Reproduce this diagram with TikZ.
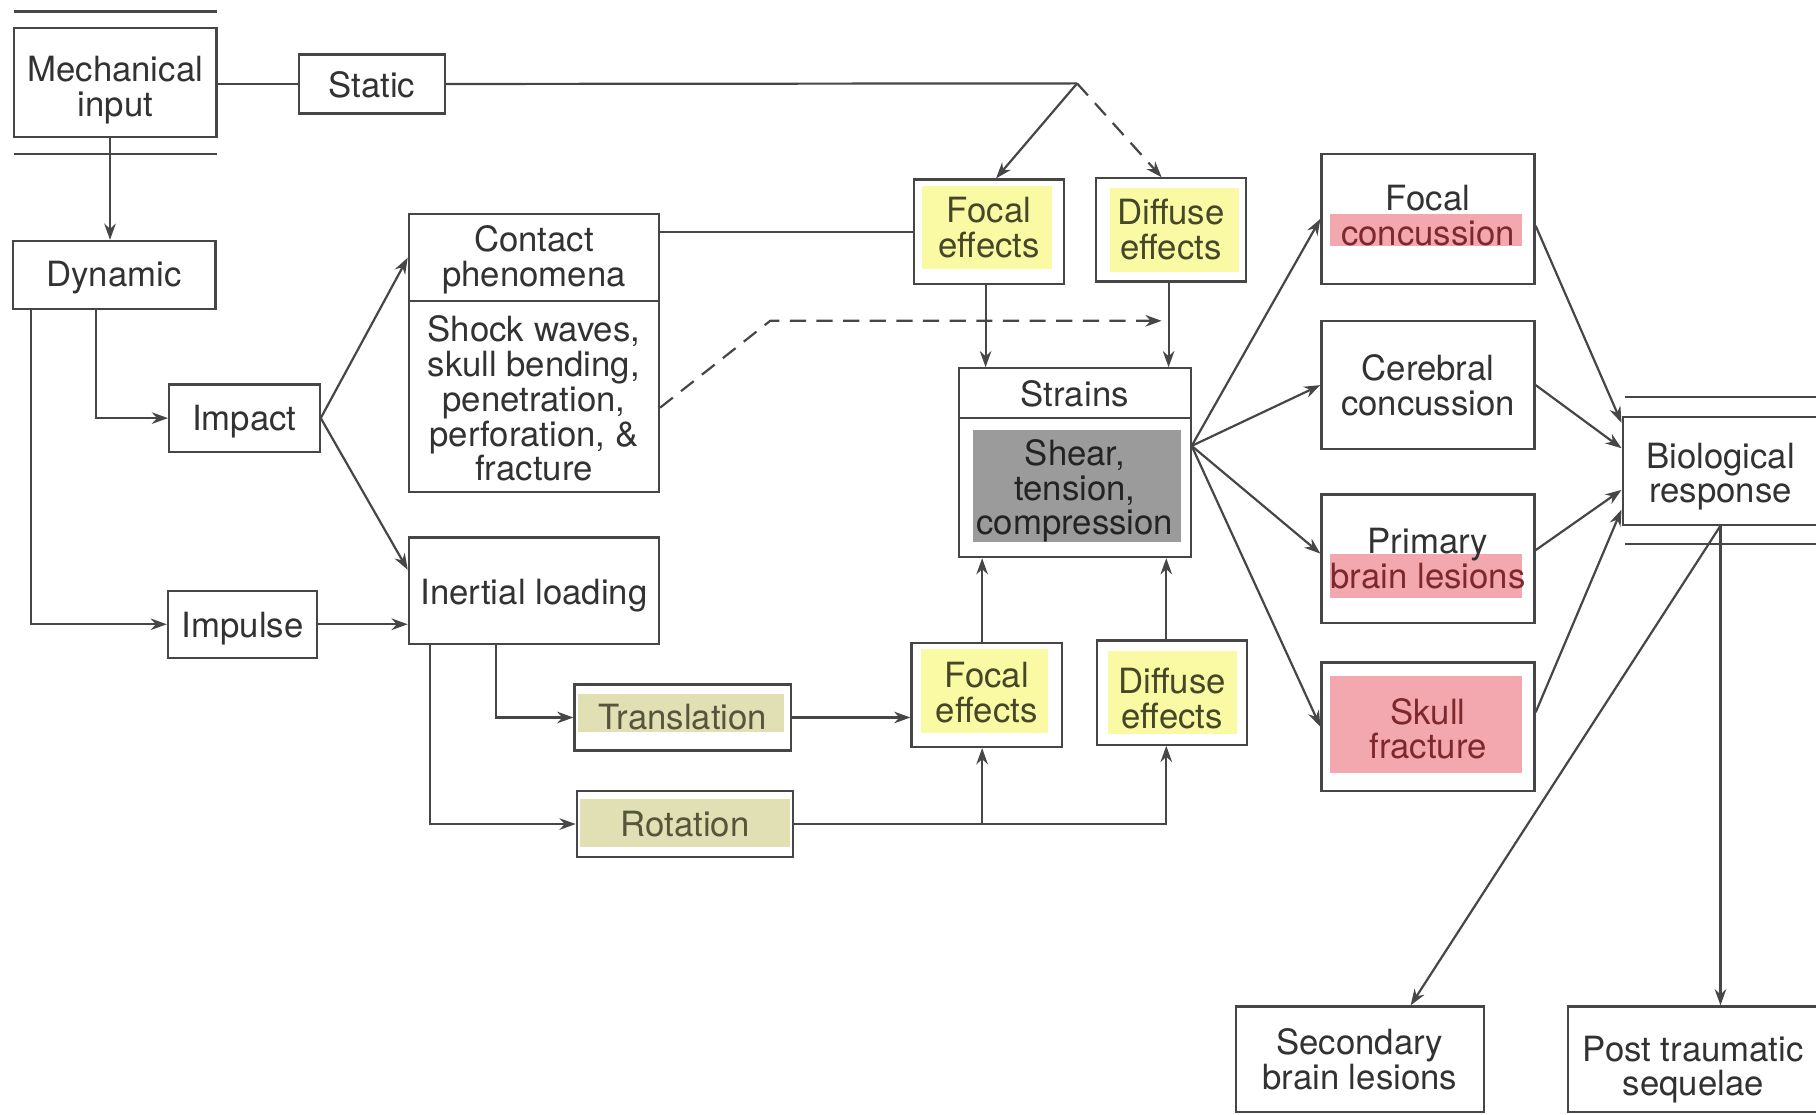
\documentclass[tikz,border=0pt]{standalone}
\usepackage{fontspec}
\setmainfont{TeX Gyre Heros}
\usetikzlibrary{arrows.meta,calc}
\definecolor{linec}{RGB}{70,70,70}
\definecolor{txt}{RGB}{50,50,50}
\definecolor{yel}{RGB}{250,250,165}
\definecolor{yeltxt}{RGB}{70,70,40}
\definecolor{olv}{RGB}{224,224,180}
\definecolor{olvtxt}{RGB}{85,85,60}
\definecolor{pnk}{RGB}{243,168,175}
\definecolor{pnktxt}{RGB}{125,40,45}
\definecolor{gry}{RGB}{155,155,155}
\definecolor{grytxt}{RGB}{35,35,35}
% push text down by #1 (first-line strut) / up by #1 (last-line depth)
\newcommand{\txtdn}[1]{\rule{0pt}{\dimexpr 22pt+#1pt+#1pt\relax}}
\newcommand{\txtup}[1]{\rule[-\dimexpr #1pt+#1pt\relax]{0pt}{0pt}}
\begin{document}
\begin{tikzpicture}[x=1pt,y=-1pt,
  bx/.style={draw=linec, line width=1.9pt, inner sep=0pt, align=center, text=txt,
    font=\fontsize{30}{30}\selectfont},
  conn/.style={draw=linec, line width=1.9pt},
  arr/.style={conn, -{Stealth[length=14pt,width=10pt]}},
  dsh/.style={arr, dash pattern=on 14pt off 9pt},
  rule/.style={draw=linec, line width=1.9pt}]
\useasboundingbox (0,0) rectangle (1568,962);

% fills
\fill[yel] (796,161) rectangle (908,232);
\fill[yel] (958,162) rectangle (1070,235);
\fill[yel] (795,560) rectangle (905,633);
\fill[yel] (957,562) rectangle (1068,634);
\fill[olv] (499,599) rectangle (677,632);
\fill[olv] (501,690) rectangle (682,731);
\fill[gry] (840,371) rectangle (1020,468);
\fill[pnk] (1148,185) rectangle (1314,212);
\fill[pnk] (1148,478) rectangle (1314,516);
\fill[pnk] (1148,584) rectangle (1314,667);

% rules
\draw[rule] (12,10) -- (187,10);
\draw[rule] (12,133) -- (187,133);
\draw[rule] (1403,343) -- (1570,343);
\draw[rule] (1403,470) -- (1570,470);

% nodes
\node[bx, minimum width=175pt, minimum height=94pt] (mech) at (99.5,71) {\txtdn{7}Mechanical\\input};
\node[bx, minimum width=126pt, minimum height=51pt] (static) at (321,72.5) {\txtdn{1}Static};
\node[bx, minimum width=175pt, minimum height=59pt] (dyn) at (98.5,237.5) {\txtdn{2}Dynamic};
\node[bx, minimum width=130pt, minimum height=58pt] (impact) at (211,361) {\txtdn{3}Impact};
\node[bx, minimum width=129pt, minimum height=58pt] (impulse) at (209.5,539) {\txtdn{4}Impulse};
\node[bx, minimum width=216pt, minimum height=75pt] (contact) at (461,222.5) {\txtdn{2}Contact\\phenomena};
\node[bx, minimum width=216pt, minimum height=165pt] (shock) at (461,342.5) {\txtdn{2}Shock waves,\\skull bending,\\penetration,\\perforation, \&\\fracture};
\node[bx, minimum width=216pt, minimum height=92pt] (inertial) at (461,510) {\txtdn{4}Inertial loading};
\node[bx, minimum width=187pt, minimum height=57pt, text=olvtxt] (trans) at (589.5,619.5) {Translation};
\node[bx, minimum width=187pt, minimum height=57pt, text=olvtxt] (rot) at (591.5,711.5) {Rotation};
\node[bx, minimum width=130pt, minimum height=90pt, text=yeltxt] (ftop) at (854,200) {Focal\\effects\txtup{4}};
\node[bx, minimum width=130pt, minimum height=89pt, text=yeltxt] (dtop) at (1011,198.5) {Diffuse\\effects};
\node[bx, minimum width=200pt, minimum height=43pt] (strains) at (928,339.5) {\txtdn{1}Strains};
\node[bx, minimum width=200pt, minimum height=120pt, text=grytxt] (shear) at (928,421) {\txtdn{3}Shear,\\tension,\\compression};
\node[bx, minimum width=130pt, minimum height=90pt, text=yeltxt] (fbot) at (852,600) {Focal\\effects\txtup{2}};
\node[bx, minimum width=130pt, minimum height=90pt, text=yeltxt] (dbot) at (1012,598) {\txtdn{5}Diffuse\\effects};
\node[bx, minimum width=184pt, minimum height=112pt] (fconc) at (1233,189) {Focal\\\textcolor{pnktxt}{concussion}\txtup{3}};
\node[bx, minimum width=184pt, minimum height=111pt] (cconc) at (1233,332.5) {Cerebral\\concussion};
\node[bx, minimum width=184pt, minimum height=111pt] (prim) at (1233,482.5) {Primary\\\textcolor{pnktxt}{brain lesions}};
\node[bx, minimum width=184pt, minimum height=111pt, text=pnktxt] (skull) at (1233,627.5) {\txtdn{2}Skull\\fracture};
\node[bx, minimum width=169pt, minimum height=93pt] (bio) at (1485.5,406.5) {\txtdn{5}Biological\\response};
\node[bx, minimum width=214pt, minimum height=91pt] (sec) at (1174,914.5) {Secondary\\brain lesions};
\node[bx, minimum width=216pt, minimum height=91pt] (post) at (1462,914.5) {\txtdn{9}Post traumatic\\sequelae};

% helper coordinates
\coordinate (sj) at (930,72);
\coordinate (dx) at (95,0);
\coordinate (dk) at (665,277);
\coordinate (fb) at ([xshift=-4pt]fbot.south);
\coordinate (fbn) at ([xshift=-4pt]fbot.north);
\coordinate (dbn) at ([xshift=-5pt]dbot.north);
\coordinate (ftn) at ([xshift=-3pt]ftop.south);
\coordinate (dts) at ([xshift=-2pt]dtop.south);
\coordinate (dde) at (1003,0);
\coordinate (so) at ([yshift=36pt]shear.east);

% connectors
\draw[conn] (mech.east |- static.west) -- (static.west);
\draw[conn] (static.east) -- (sj);
\draw[arr] (sj) -- ([xshift=6pt]ftop.north);
\draw[dsh] (sj) -- ([xshift=-8pt]dtop.north);
\draw[arr] (mech.south -| dx) -- (dyn.north -| dx);
\draw[arr] ([xshift=-15.5pt]dyn.south) |- (impact.west);
\draw[arr] ([xshift=-71.5pt]dyn.south) |- (impulse.west);
\draw[arr] (impact.east) -- (contact.west);
\draw[arr] (impact.east) -- ([yshift=18pt]inertial.west);
\draw[arr] (impulse.east) -- (impulse.east -| inertial.west);
\draw[arr] ([xshift=-33pt]inertial.south) |- (trans.west);
\draw[arr] ([xshift=-90pt]inertial.south) |- (rot.west);
\draw[arr] (trans.east) -- (trans.east -| fbot.west);
\draw[arr] (rot.east) -| ([xshift=-5pt]dbot.south);
\draw[arr] (fb |- rot.east) -- (fb);
\draw[arr] (fbn) -- (fbn |- shear.south);
\draw[arr] (dbn) -- (dbn |- shear.south);
\draw[arr] (ftn) -- (ftn |- strains.north);
\draw[arr] (dts) -- (dts |- strains.north);
\draw[conn] (ftop.west -| contact.east) -- (ftop.west);
\draw[dsh] ([yshift=-9.5pt]shock.east) -- (dk) -- (dk -| dde);
\draw[arr] (so) -- (fconc.west);
\draw[arr] (so) -- (cconc.west);
\draw[arr] (so) -- ([yshift=4.5pt]prim.west);
\draw[arr] (so) -- (skull.west);
\draw[arr] ([yshift=-6pt]fconc.east) -- ([yshift=-6pt]bio.north west);
\draw[arr] (cconc.east) -- ([yshift=19.5pt]bio.west);
\draw[arr] ([yshift=7.5pt]prim.east) -- ([yshift=-16.5pt]bio.west);
\draw[arr] ([yshift=12.5pt]skull.east) -- ([yshift=-33.5pt]bio.west);
\draw[arr] (bio.south) -- ([xshift=44pt]sec.north);
\draw[arr] (bio.south) -- (bio.south |- post.north);
\end{tikzpicture}
\end{document}
